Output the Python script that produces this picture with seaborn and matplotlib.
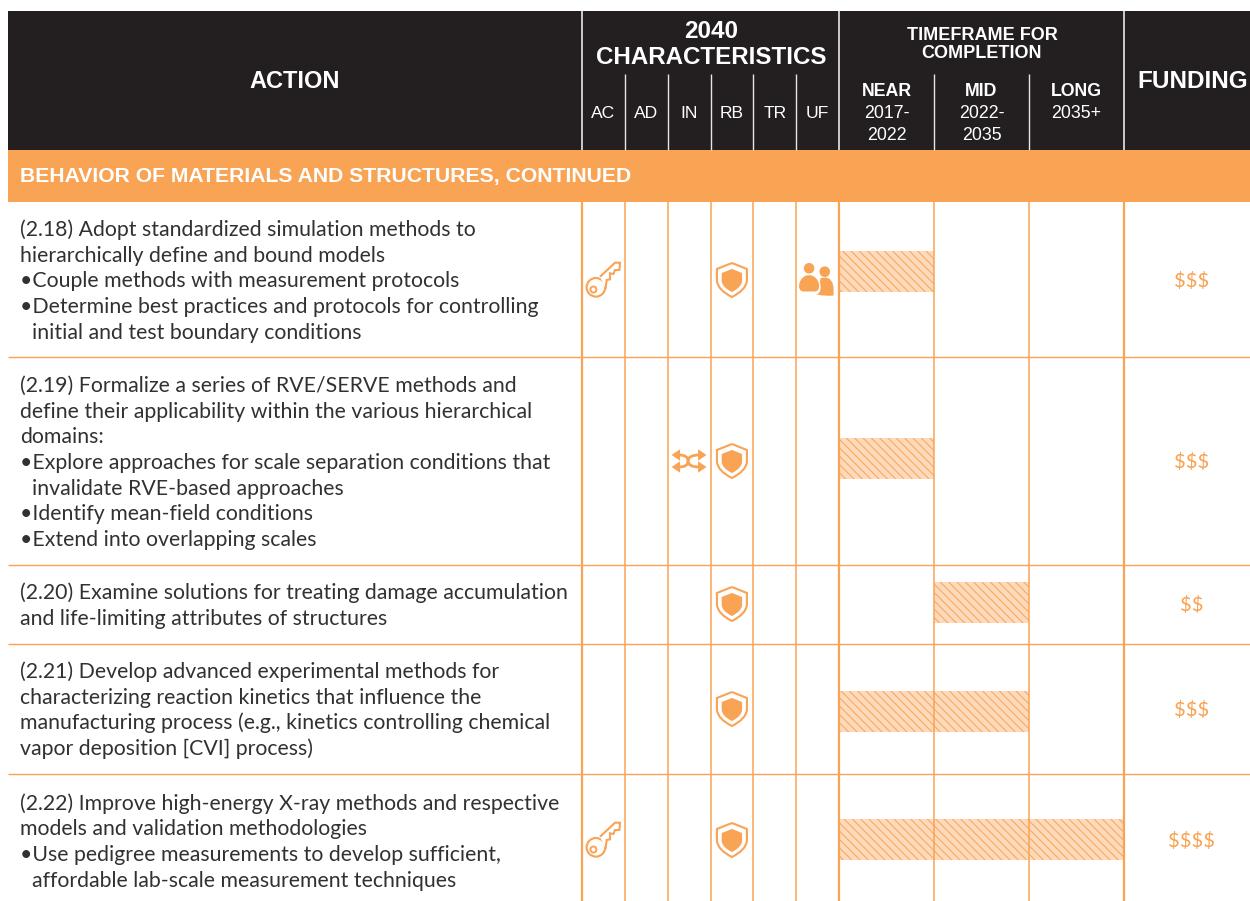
"""
Roadmap table: actions, 2040 characteristics, timeframe bars and funding.
"""

import matplotlib
matplotlib.use('Agg')
import matplotlib.pyplot as plt
import numpy as np
import pandas as pd
import seaborn as sns
from matplotlib.patches import Circle, PathPatch, Polygon, Rectangle
from matplotlib.path import Path

# ---------------------------------------------------------------------------
# Data
# ---------------------------------------------------------------------------

section_title = 'BEHAVIOR OF MATERIALS AND STRUCTURES, CONTINUED'
characteristics = ['AC', 'AD', 'IN', 'RB', 'TR', 'UF']
period_names = ['NEAR', 'MID', 'LONG']
period_years = ['2017-\n2022', '2022-\n2035', '2035+']

# one text per printed line: (line, indent)
action_2_18 = [('(2.18) Adopt standardized simulation methods to', 0),
               ('hierarchically define and bound models', 0),
               ('•Couple methods with measurement protocols', 0),
               ('•Determine best practices and protocols for controlling', 0),
               ('initial and test boundary conditions', 1)]
action_2_19 = [('(2.19) Formalize a series of RVE/SERVE methods and', 0),
               ('define their applicability within the various hierarchical', 0),
               ('domains:', 0),
               ('•Explore approaches for scale separation conditions that', 0),
               ('invalidate RVE-based approaches', 1),
               ('•Identify mean-field conditions', 0),
               ('•Extend into overlapping scales', 0)]
action_2_20 = [('(2.20) Examine solutions for treating damage accumulation', 0),
               ('and life-limiting attributes of structures', 0)]
action_2_21 = [('(2.21) Develop advanced experimental methods for', 0),
               ('characterizing reaction kinetics that influence the', 0),
               ('manufacturing process (e.g., kinetics controlling chemical', 0),
               ('vapor deposition [CVI] process)', 0)]
action_2_22 = [('(2.22) Improve high-energy X-ray methods and respective', 0),
               ('models and validation methodologies', 0),
               ('•Use pedigree measurements to develop sufficient,', 0),
               ('affordable lab-scale measurement techniques', 1)]
actions = [action_2_18, action_2_19, action_2_20, action_2_21, action_2_22]

ac_flags = [1, 0, 0, 0, 1]
in_flags = [0, 1, 0, 0, 0]
rb_flags = [1, 1, 1, 1, 1]
uf_flags = [1, 0, 0, 0, 0]

time_start = [0, 0, 1, 0, 0]
time_end = [1, 1, 2, 2, 3]
funding = ['$$$', '$$$', '$$', '$$$', '$$$$']

# ---------------------------------------------------------------------------
# Layout (pixels) and style
# ---------------------------------------------------------------------------

W, H = 1250, 901
HEAD_L, HEAD_T, HEAD_B, BAND_B = 8, 11, 150, 202
COL_ACTION = 582
COL_CHAR = np.linspace(582, 839, 7)
COL_TIME = np.linspace(839, 1124, 4)
ROW_LINES = [357, 565, 644, 774]
ROW_ICON = [280, 461, 604, 709, 840]
ROW_BAR = [271.5, 458.5, 602.5, 711.5, 839.5]
ROW_BASE = [236, 392, 599, 678, 809.5]
LINE_STEP = 25.7
BAR_H = 41

DARK = '#231F20'
ORANGE = '#F9A354'
LIGHT = '#FDDABB'
BODY = '#333031'
HEAD_FONT = 'Liberation Sans'
BODY_FONT = 'Lato'


# ---------------------------------------------------------------------------
# Icons (drawn relative to the icon centre, in pixels)
# ---------------------------------------------------------------------------

def _shield_path(cx, cy, s):
    verts = [(0, -17), (15, -11), (15, 1), (14, 10), (0, 17), (-14, 10), (-15, 1), (-15, -11), (0, -17)]
    codes = [Path.MOVETO, Path.LINETO, Path.LINETO, Path.CURVE3, Path.CURVE3,
             Path.CURVE3, Path.CURVE3, Path.LINETO, Path.LINETO]
    return Path([(cx + s * x, cy + s * y) for x, y in verts], codes)


def _draw_shield(ax, cx, cy):
    ax.add_patch(PathPatch(_shield_path(cx, cy, 1), fc='white', ec=ORANGE, lw=1.5, zorder=4))
    ax.add_patch(PathPatch(_shield_path(cx, cy + 0.5, 0.68), fc=ORANGE, ec='none', zorder=5))


def _draw_people(ax, cx, cy):
    ax.add_patch(Circle((cx - 8.5, cy - 11.7), 5.3, fc=ORANGE, ec='none', zorder=4))
    ax.add_patch(Circle((cx + 7.2, cy - 8.3), 5.3, fc=ORANGE, ec='none', zorder=4))
    back = Path([(cx - 1, cy + 14.5), (cx + 5, cy + 12), (cx + 2, cy + 4), (cx + 3, cy - 2),
                 (cx + 8, cy - 2.5), (cx + 15, cy - 2), (cx + 16, cy + 8), (cx + 16, cy + 15.5),
                 (cx + 8, cy + 16.5), (cx - 1, cy + 14.5)],
                [Path.MOVETO, Path.CURVE3, Path.CURVE3, Path.LINETO, Path.LINETO,
                 Path.CURVE3, Path.CURVE3, Path.LINETO, Path.CURVE3, Path.CURVE3])
    ax.add_patch(PathPatch(back, fc=ORANGE, ec='none', zorder=4))
    front = Path([(cx - 14, cy + 12.2), (cx - 23, cy + 12.2), (cx - 20, cy - 5.5), (cx - 8.5, cy - 5.5),
                  (cx + 3, cy - 5.5), (cx + 6, cy + 12.2), (cx - 3, cy + 12.2), (cx - 14, cy + 12.2)],
                 [Path.MOVETO, Path.CURVE4, Path.CURVE4, Path.CURVE4,
                  Path.CURVE4, Path.CURVE4, Path.CURVE4, Path.LINETO])
    ax.add_patch(PathPatch(front, fc=ORANGE, ec='white', lw=1, zorder=5))


def _draw_key(ax, cx, cy):
    ax.add_patch(Circle((cx - 7.5, cy + 7.3), 9.3, fc='white', ec=ORANGE, lw=1.5, zorder=4))
    ax.add_patch(Circle((cx - 10, cy + 9.5), 3, fc='white', ec=ORANGE, lw=1.4, zorder=6))
    outline = [(-3.4, -3.3), (11.6, -17.3), (16.6, -17.3), (16, -10), (11.6, -10), (10, -6),
               (6.6, -6.7), (6.6, -0.7), (3.3, 0), (2, 9)]
    pts = [(cx + x, cy + y) for x, y in outline]
    # white fill hides the part of the bow under the shaft, the edge stays open
    ax.add_patch(Polygon(pts, closed=True, fc='white', ec='none', zorder=5))
    ax.plot([p[0] for p in pts], [p[1] for p in pts], color=ORANGE, lw=1.5, zorder=5.5,
            solid_joinstyle='miter', solid_capstyle='butt')


def _draw_shuffle(ax, cx, cy):
    # two crossing s-curves, each with a head at both ends
    for sign in (-1, 1):
        curve = Path([(cx - 10, cy + sign * 6), (cx - 1, cy + sign * 6), (cx - 1, cy),
                      (cx - 1, cy - sign * 6), (cx + 10, cy - sign * 6)],
                     [Path.MOVETO, Path.CURVE3, Path.CURVE3, Path.CURVE3, Path.CURVE3])
        ax.add_patch(PathPatch(curve, fc='none', ec=ORANGE, lw=2, zorder=4))
        ax.add_patch(Polygon([(cx - 17.5, cy + sign * 6), (cx - 9, cy + sign * 6 - 5.7), (cx - 9, cy + sign * 6 + 5.7)],
                             closed=True, fc=ORANGE, ec='none', zorder=4))
        ax.add_patch(Polygon([(cx + 17.5, cy + sign * 6), (cx + 9, cy + sign * 6 - 5.7), (cx + 9, cy + sign * 6 + 5.7)],
                             closed=True, fc=ORANGE, ec='none', zorder=4))


# ---------------------------------------------------------------------------
# Figure
# ---------------------------------------------------------------------------

sns.set_theme(style='white')
plt.rcParams['font.family'] = [BODY_FONT, 'DejaVu Sans']
plt.rcParams['hatch.linewidth'] = 0.7
plt.rcParams['hatch.color'] = ORANGE

fig = plt.figure(figsize=(W / 100, H / 100), dpi=100)
ax = fig.add_axes([0, 0, 1, 1])
ax.set_xlim(0, W)
ax.set_ylim(H, 0)
ax.axis('off')

# header
ax.add_patch(Rectangle((HEAD_L, HEAD_T), W - HEAD_L, HEAD_B - HEAD_T, fc=DARK, ec='none', zorder=1))

# timeframe bars, on a second axes whose x unit is one timeframe column
bars = pd.DataFrame({'row': ROW_BAR, 'start': time_start, 'end': time_end})
bars['span'] = bars['end'] - bars['start']
bar_ax = fig.add_axes([COL_TIME[0] / W, 0, (COL_TIME[-1] - COL_TIME[0]) / W, 1], zorder=2)
sns.barplot(data=bars, x='span', y='row', orient='y', native_scale=True, left=bars['start'],
            width=BAR_H / np.diff(ROW_BAR).min(), color=LIGHT, saturation=1, ax=bar_ax)
for patch in bar_ax.patches:
    patch.set_facecolor(LIGHT)
    patch.set_edgecolor(ORANGE)
    patch.set_linewidth(0)
    patch.set_hatch('\\\\\\\\')
bar_ax.set_xlim(0, 3)
bar_ax.set_ylim(H, 0)
bar_ax.axis('off')
bar_ax.patch.set_alpha(0)

# top layer for lines, icons and text
top = fig.add_axes([0, 0, 1, 1], zorder=3)
top.set_xlim(0, W)
top.set_ylim(H, 0)
top.axis('off')
top.patch.set_alpha(0)

# grid lines in the body
for y in ROW_LINES:
    top.plot([HEAD_L, W], [y, y], color=ORANGE, lw=1, solid_capstyle='butt', zorder=1)
for x in list(COL_CHAR[1:-1]) + list(COL_TIME[1:-1]):
    top.plot([x, x], [BAND_B, H], color=ORANGE, lw=1.1, solid_capstyle='butt', zorder=1)
for x in (COL_ACTION, COL_TIME[0], COL_TIME[-1]):
    top.plot([x, x], [BAND_B, H], color=ORANGE, lw=1.6, solid_capstyle='butt', zorder=1)

# section band
top.add_patch(Rectangle((HEAD_L, HEAD_B), W - HEAD_L, BAND_B - HEAD_B, fc=ORANGE, ec='none', zorder=1.5))

# grid lines in the header
for x in (COL_ACTION, COL_TIME[0], COL_TIME[-1]):
    top.plot([x, x], [HEAD_T, HEAD_B], color='#D9D9D9', lw=1.3, solid_capstyle='butt', zorder=2)
for x in list(COL_CHAR[1:-1]) + list(COL_TIME[1:-1]):
    top.plot([x, x], [74, HEAD_B], color='#E6E6E6', lw=1, solid_capstyle='butt', zorder=2)

# header text
head = dict(color='white', family=HEAD_FONT, weight='bold', ha='center', va='center')
thin = dict(color='white', family=HEAD_FONT, ha='center', va='center')
top.text(295, 82, 'ACTION', fontsize=17, **head)
top.text(711, 32, '2040', fontsize=17.5, **head)
top.text(711, 58, 'CHARACTERISTICS', fontsize=17.4, **head)
top.text(982, 35, 'TIMEFRAME FOR', fontsize=13, **head)
top.text(982, 53, 'COMPLETION', fontsize=13, **head)
top.text(1192.5, 82, 'FUNDING', fontsize=17.5, **head)
for i, name in enumerate(characteristics):
    top.text((COL_CHAR[i] + COL_CHAR[i + 1]) / 2, 113.5, name, fontsize=12.6, **thin)
for i, name in enumerate(period_names):
    cx = (COL_TIME[i] + COL_TIME[i + 1]) / 2
    top.text(cx, 91, name, fontsize=12.8, **head)
    top.text(cx, 124.5 if '\n' in period_years[i] else 113.5, period_years[i], fontsize=12.8,
             linespacing=1.32, **thin)

top.text(20, 176.5, section_title, color='white', family=HEAD_FONT, weight='bold',
         fontsize=15.2, ha='left', va='center')

# action text
for lines, y0 in zip(actions, ROW_BASE):
    for k, (line, indent) in enumerate(lines):
        top.text(20 + indent * 11.5, y0 + k * LINE_STEP, line, color=BODY, fontsize=15.3,
                 ha='left', va='baseline')

# icons
for i in range(len(actions)):
    cy = ROW_ICON[i]
    if ac_flags[i]:
        _draw_key(top, (COL_CHAR[0] + COL_CHAR[1]) / 2, cy)
    if in_flags[i]:
        _draw_shuffle(top, (COL_CHAR[2] + COL_CHAR[3]) / 2, cy)
    if rb_flags[i]:
        _draw_shield(top, (COL_CHAR[3] + COL_CHAR[4]) / 2, cy)
    if uf_flags[i]:
        _draw_people(top, (COL_CHAR[5] + COL_CHAR[6]) / 2, cy)
    top.text((COL_TIME[-1] + W) / 2 + 4.5, cy + 1, funding[i], color=ORANGE, fontsize=14.5,
             ha='center', va='center', parse_math=False)

fig.savefig('out.png', dpi=100)
